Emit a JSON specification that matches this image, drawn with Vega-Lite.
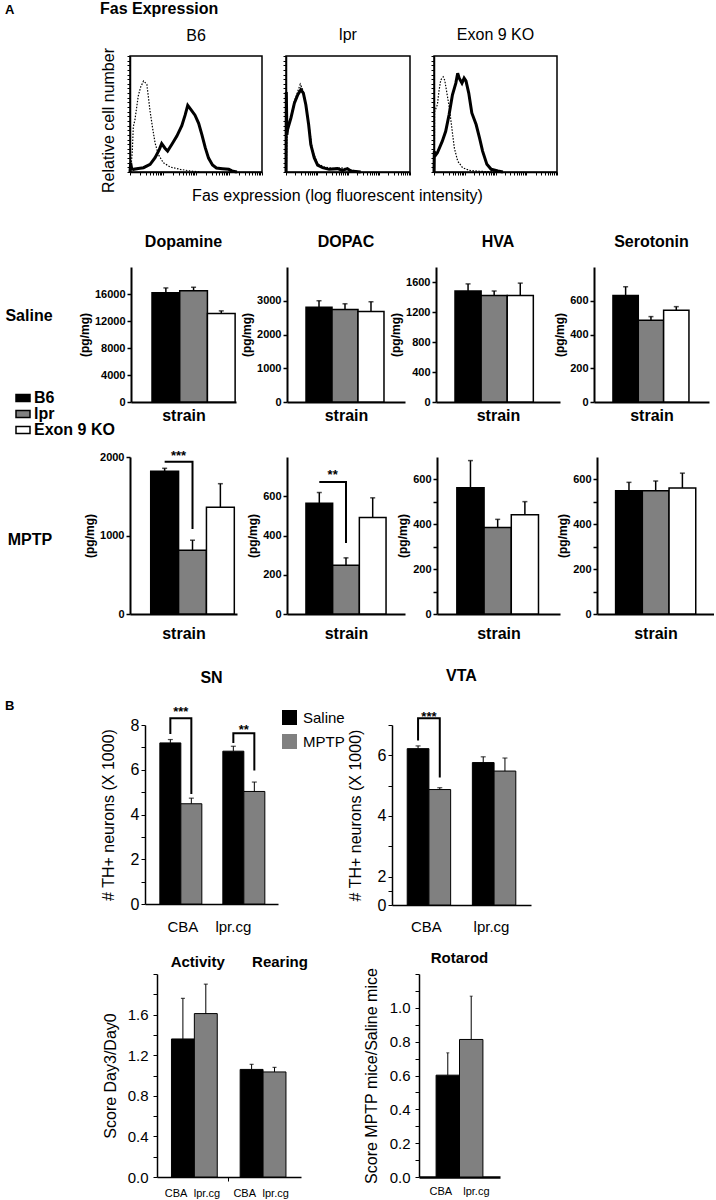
{
"$schema":"https://vega.github.io/schema/vega-lite/v6.json",
"background":"white",
"padding":{"left":5,"top":0,"right":0,"bottom":0},
"config":{"font":"Liberation Sans","view":{"stroke":null},"axis":{"grid":false,"domainColor":"black","tickColor":"black","labelColor":"black","titleColor":"black","labelOverlap":false,"labelFlush":false},"title":{"color":"black"},"legend":{"labelColor":"black"}},
"title":{"text":"A","anchor":"start","fontSize":13,"fontWeight":"bold","offset":-16},
"spacing":0,
"datasets":{
"b6_fas":[{"logI":0,"count":0},{"logI":0.02,"count":0.08},{"logI":0.05,"count":0.03},{"logI":0.1,"count":0.023},{"logI":0.25,"count":0.03},{"logI":0.41,"count":0.037},{"logI":0.61,"count":0.066},{"logI":0.76,"count":0.124},{"logI":0.89,"count":0.195},{"logI":0.96,"count":0.245},{"logI":1.06,"count":0.205},{"logI":1.14,"count":0.18},{"logI":1.27,"count":0.239},{"logI":1.42,"count":0.31},{"logI":1.57,"count":0.4},{"logI":1.67,"count":0.49},{"logI":1.75,"count":0.575},{"logI":1.83,"count":0.545},{"logI":1.97,"count":0.49},{"logI":2.08,"count":0.42},{"logI":2.18,"count":0.32},{"logI":2.28,"count":0.21},{"logI":2.38,"count":0.12},{"logI":2.5,"count":0.06},{"logI":2.62,"count":0.035},{"logI":2.8,"count":0.029},{"logI":2.99,"count":0.023},{"logI":3.09,"count":0.009},{"logI":3.24,"count":0}],
"b6_ctrl":[{"logI":0.02,"count":0.01},{"logI":0.07,"count":0.18},{"logI":0.1,"count":0.39},{"logI":0.15,"count":0.45},{"logI":0.25,"count":0.655},{"logI":0.32,"count":0.73},{"logI":0.41,"count":0.785},{"logI":0.51,"count":0.756},{"logI":0.56,"count":0.64},{"logI":0.61,"count":0.52},{"logI":0.69,"count":0.37},{"logI":0.76,"count":0.25},{"logI":0.86,"count":0.15},{"logI":1.01,"count":0.08},{"logI":1.22,"count":0.043},{"logI":1.52,"count":0.023},{"logI":1.82,"count":0.009},{"logI":2.13,"count":0}],
"lpr_fas":[{"logI":0,"count":0},{"logI":0.01,"count":0.69},{"logI":0.03,"count":0.32},{"logI":0.05,"count":0.366},{"logI":0.16,"count":0.466},{"logI":0.27,"count":0.594},{"logI":0.38,"count":0.666},{"logI":0.48,"count":0.709},{"logI":0.56,"count":0.68},{"logI":0.64,"count":0.58},{"logI":0.73,"count":0.409},{"logI":0.8,"count":0.237},{"logI":0.91,"count":0.123},{"logI":1.02,"count":0.06},{"logI":1.18,"count":0.037},{"logI":1.39,"count":0.023},{"logI":1.66,"count":0.029},{"logI":1.82,"count":0.014},{"logI":1.98,"count":0.029},{"logI":2.09,"count":0.009},{"logI":2.41,"count":0}],
"lpr_ctrl":[{"logI":0.01,"count":0.01},{"logI":0.03,"count":0.29},{"logI":0.05,"count":0.35},{"logI":0.16,"count":0.48},{"logI":0.27,"count":0.61},{"logI":0.38,"count":0.694},{"logI":0.46,"count":0.757},{"logI":0.54,"count":0.709},{"logI":0.64,"count":0.594},{"logI":0.75,"count":0.38},{"logI":0.86,"count":0.18},{"logI":1.02,"count":0.071},{"logI":1.23,"count":0.043},{"logI":1.55,"count":0.029},{"logI":1.77,"count":0.037},{"logI":2.04,"count":0.023},{"logI":2.31,"count":0.003}],
"exon_fas":[{"logI":0,"count":0},{"logI":0.01,"count":0.18},{"logI":0.03,"count":0.137},{"logI":0.11,"count":0.166},{"logI":0.27,"count":0.266},{"logI":0.38,"count":0.351},{"logI":0.49,"count":0.494},{"logI":0.6,"count":0.666},{"logI":0.71,"count":0.766},{"logI":0.77,"count":0.851},{"logI":0.82,"count":0.809},{"logI":0.91,"count":0.766},{"logI":0.98,"count":0.809},{"logI":1.04,"count":0.786},{"logI":1.13,"count":0.68},{"logI":1.23,"count":0.509},{"logI":1.37,"count":0.409},{"logI":1.48,"count":0.294},{"logI":1.58,"count":0.18},{"logI":1.72,"count":0.066},{"logI":1.86,"count":0.023},{"logI":2.08,"count":0.009},{"logI":2.24,"count":0}],
"exon_ctrl":[{"logI":0.01,"count":0},{"logI":0.02,"count":0.52},{"logI":0.11,"count":0.58},{"logI":0.16,"count":0.694},{"logI":0.22,"count":0.794},{"logI":0.3,"count":0.82},{"logI":0.35,"count":0.79},{"logI":0.42,"count":0.68},{"logI":0.5,"count":0.551},{"logI":0.58,"count":0.38},{"logI":0.66,"count":0.209},{"logI":0.77,"count":0.094},{"logI":0.93,"count":0.037},{"logI":1.15,"count":0.014},{"logI":1.48,"count":0.006},{"logI":2.02,"count":0}]
},
"vconcat":[
{"hconcat":[
  {"width":101,"height":1,"data":{"values":[{"t":""}]},"mark":{"type":"text","fontSize":1},"encoding":{"text":{"field":"t","type":"nominal"}}},
  {"width":132,"height":116,"title":{"text":"B6","fontSize":16,"fontWeight":"normal","offset":4},"view":{"stroke":"black","strokeWidth":1.5},
   "layer":[
    {"data":{"name":"b6_fas"},"mark":{"type":"line","color":"black","strokeWidth":3},"encoding":{"x":{"field":"logI","type":"quantitative","scale":{"domain":[0,4]},"axis":{"title":null,"labels":false,"tickSize":3,"tickCount":100,"domainWidth":1.5,"values":[0,0.301,0.477,0.602,0.699,0.778,0.845,0.903,0.954,1,1.301,1.477,1.602,1.699,1.778,1.845,1.903,1.954,2,2.301,2.477,2.602,2.699,2.778,2.845,2.903,2.954,3,3.301,3.477,3.602,3.699,3.778,3.845,3.903,3.954,4]}},"y":{"field":"count","type":"quantitative","scale":{"domain":[0,1]},"axis":{"title":"Relative cell number","titleFontSize":16,"titleFontWeight":"normal","titlePadding":10,"titleY":64,"labels":false,"tickSize":3,"tickCount":100,"domainWidth":1.5,"values":[0,0.04,0.08,0.12,0.16,0.2,0.24,0.28,0.32,0.36,0.4,0.44,0.48,0.52,0.56,0.6,0.64,0.68,0.72,0.76,0.8,0.84,0.88,0.92,0.96,1]}}}},
    {"data":{"name":"b6_ctrl"},"mark":{"type":"line","color":"black","strokeWidth":1.2,"strokeDash":[1.5,1.5]},"encoding":{"x":{"field":"logI","type":"quantitative"},"y":{"field":"count","type":"quantitative"}}}
   ]},
  {"width":124,"height":116,"title":{"text":"lpr","fontSize":16,"fontWeight":"normal","offset":13},"view":{"stroke":"black","strokeWidth":1.5},
   "layer":[
    {"data":{"name":"lpr_fas"},"mark":{"type":"line","color":"black","strokeWidth":3},"encoding":{"x":{"field":"logI","type":"quantitative","scale":{"domain":[0,4]},"axis":{"title":"Fas expression (log fluorescent intensity)","titleFontSize":16,"titleFontWeight":"normal","titlePadding":12,"titleX":51,"labels":false,"tickSize":3,"tickCount":100,"domainWidth":1.5,"values":[0,0.301,0.477,0.602,0.699,0.778,0.845,0.903,0.954,1,1.301,1.477,1.602,1.699,1.778,1.845,1.903,1.954,2,2.301,2.477,2.602,2.699,2.778,2.845,2.903,2.954,3,3.301,3.477,3.602,3.699,3.778,3.845,3.903,3.954,4]}},"y":{"field":"count","type":"quantitative","scale":{"domain":[0,1]},"axis":{"title":null,"labels":false,"tickSize":3,"tickCount":100,"domainWidth":1.5,"values":[0,0.04,0.08,0.12,0.16,0.2,0.24,0.28,0.32,0.36,0.4,0.44,0.48,0.52,0.56,0.6,0.64,0.68,0.72,0.76,0.8,0.84,0.88,0.92,0.96,1]}}}},
    {"data":{"name":"lpr_ctrl"},"mark":{"type":"line","color":"black","strokeWidth":1.2,"strokeDash":[1.5,1.5]},"encoding":{"x":{"field":"logI","type":"quantitative"},"y":{"field":"count","type":"quantitative"}}}
   ]},
  {"width":123,"height":116,"title":{"text":"Exon 9 KO","fontSize":16,"fontWeight":"normal","offset":13},"view":{"stroke":"black","strokeWidth":1.5},
   "layer":[
    {"data":{"name":"exon_fas"},"mark":{"type":"line","color":"black","strokeWidth":3},"encoding":{"x":{"field":"logI","type":"quantitative","scale":{"domain":[0,4]},"axis":{"title":null,"labels":false,"tickSize":3,"tickCount":100,"domainWidth":1.5,"values":[0,0.301,0.477,0.602,0.699,0.778,0.845,0.903,0.954,1,1.301,1.477,1.602,1.699,1.778,1.845,1.903,1.954,2,2.301,2.477,2.602,2.699,2.778,2.845,2.903,2.954,3,3.301,3.477,3.602,3.699,3.778,3.845,3.903,3.954,4]}},"y":{"field":"count","type":"quantitative","scale":{"domain":[0,1]},"axis":{"title":null,"labels":false,"tickSize":3,"tickCount":100,"domainWidth":1.5,"values":[0,0.04,0.08,0.12,0.16,0.2,0.24,0.28,0.32,0.36,0.4,0.44,0.48,0.52,0.56,0.6,0.64,0.68,0.72,0.76,0.8,0.84,0.88,0.92,0.96,1]}}}},
    {"data":{"name":"exon_ctrl"},"mark":{"type":"line","color":"black","strokeWidth":1.2,"strokeDash":[1.5,1.5]},"encoding":{"x":{"field":"logI","type":"quantitative"},"y":{"field":"count","type":"quantitative"}}}
   ]}
 ],"spacing":24,"bounds":"flush",
 "title":{"text":"Fas Expression","anchor":"start","dx":95,"fontSize":16,"fontWeight":"bold","offset":9}},
{"width":1,"height":29,"data":{"values":[{"t":""}]},"mark":{"type":"text","fontSize":1},"encoding":{"text":{"field":"t","type":"nominal"}}},
{"hconcat":[
  {"width":48,"height":98,"data":{"values":[{"label":"Saline"}]},"mark":{"type":"text","fontSize":16,"fontWeight":"bold","color":"black"},"encoding":{"text":{"field":"label","type":"nominal"}}},
  {"width":48,"height":1,"data":{"values":[{"t":""}]},"mark":{"type":"text","fontSize":1},"encoding":{"text":{"field":"t","type":"nominal"}}},
  {"width":105,"height":135,"title":{"text":"Dopamine","fontSize":16,"fontWeight":"bold","offset":17},
   "data":{"values":[{"strain":"B6","mean":16200,"upper":16900},{"strain":"lpr","mean":16500,"upper":17000},{"strain":"Exon 9 KO","mean":13100,"upper":13500}]},
   "encoding":{"x":{"field":"strain","type":"nominal","scale":{"domain":["B6","lpr","Exon 9 KO"],"paddingInner":0,"paddingOuter":0.395,"align":0.96},"axis":{"title":"strain","titleFontSize":16,"titleFontWeight":"bold","titlePadding":5,"labels":false,"ticks":false,"domainWidth":2}}},
   "layer":[
    {"mark":{"type":"bar","stroke":"black","strokeWidth":1.5},"encoding":{"y":{"field":"mean","type":"quantitative","scale":{"domain":[0,18300]},"axis":{"title":"(pg/mg)","titleFontSize":12,"titleFontWeight":"bold","titlePadding":3,"labelFontSize":11,"labelFontWeight":"bold","labelPadding":2,"labelOverlap":false,"tickSize":4,"tickWidth":1.5,"tickCount":100,"domainWidth":2,"format":"d","values":[0,4000,8000,12000,16000]}},
      "fill":{"field":"strain","type":"nominal","scale":{"domain":["B6","lpr","Exon 9 KO","CBA","lpr.cg"],"range":["black","#808080","white","black","#808080"]},
        "legend":{"orient":"none","legendX":10,"legendY":334,"title":null,"values":["B6","lpr","Exon 9 KO"],"symbolType":"M-1,-0.5H1V0.5H-1Z","symbolSize":196,"symbolStrokeColor":"black","symbolStrokeWidth":1.5,"labelFontSize":16,"labelFontWeight":"bold","rowPadding":0,"labelOffset":3,"padding":0,"encode":{"symbols":{"update":{"stroke":{"value":"black"},"strokeWidth":{"value":1.5}}}}}}}},
    {"mark":{"type":"rule","color":"black","strokeWidth":1.5},"encoding":{"y":{"field":"mean","type":"quantitative"},"y2":{"field":"upper"}}},
    {"mark":{"type":"tick","color":"black","size":5,"thickness":1.5},"encoding":{"y":{"field":"upper","type":"quantitative"}}}
   ]},
  {"width":21,"height":1,"data":{"values":[{"t":""}]},"mark":{"type":"text","fontSize":1},"encoding":{"text":{"field":"t","type":"nominal"}}},
  {"width":118,"height":135,"title":{"text":"DOPAC","fontSize":16,"fontWeight":"bold","offset":17},
   "data":{"values":[{"strain":"B6","mean":2810,"upper":3000},{"strain":"lpr","mean":2740,"upper":2910},{"strain":"Exon 9 KO","mean":2680,"upper":2970}]},
   "encoding":{"x":{"field":"strain","type":"nominal","scale":{"domain":["B6","lpr","Exon 9 KO"],"paddingInner":0,"paddingOuter":0.77,"align":0.475},"axis":{"title":"strain","titleFontSize":16,"titleFontWeight":"bold","titlePadding":5,"labels":false,"ticks":false,"domainWidth":2}}},
   "layer":[
    {"mark":{"type":"bar","stroke":"black","strokeWidth":1.5},"encoding":{"y":{"field":"mean","type":"quantitative","scale":{"domain":[0,3550]},"axis":{"title":"(pg/mg)","titleFontSize":12,"titleFontWeight":"bold","titlePadding":3,"labelFontSize":11,"labelFontWeight":"bold","labelPadding":2,"labelOverlap":false,"tickSize":4,"tickWidth":1.5,"tickCount":100,"domainWidth":2,"format":"d","values":[0,1000,2000,3000]}},
      "fill":{"field":"strain","type":"nominal","scale":{"domain":["B6","lpr","Exon 9 KO","CBA","lpr.cg"],"range":["black","#808080","white","black","#808080"]},"legend":null}}},
    {"mark":{"type":"rule","color":"black","strokeWidth":1.5},"encoding":{"y":{"field":"mean","type":"quantitative"},"y2":{"field":"upper"}}},
    {"mark":{"type":"tick","color":"black","size":5,"thickness":1.5},"encoding":{"y":{"field":"upper","type":"quantitative"}}}
   ]},
  {"width":1,"height":1,"data":{"values":[{"t":""}]},"mark":{"type":"text","fontSize":1},"encoding":{"text":{"field":"t","type":"nominal"}}},
  {"width":124,"height":135,"title":{"text":"HVA","fontSize":16,"fontWeight":"bold","offset":17},
   "data":{"values":[{"strain":"B6","mean":1480,"upper":1575},{"strain":"lpr","mean":1420,"upper":1480},{"strain":"Exon 9 KO","mean":1420,"upper":1585}]},
   "encoding":{"x":{"field":"strain","type":"nominal","scale":{"domain":["B6","lpr","Exon 9 KO"],"paddingInner":0,"paddingOuter":0.875,"align":0.416},"axis":{"title":"strain","titleFontSize":16,"titleFontWeight":"bold","titlePadding":5,"labels":false,"ticks":false,"domainWidth":2}}},
   "layer":[
    {"mark":{"type":"bar","stroke":"black","strokeWidth":1.5},"encoding":{"y":{"field":"mean","type":"quantitative","scale":{"domain":[0,1715]},"axis":{"title":"(pg/mg)","titleFontSize":12,"titleFontWeight":"bold","titlePadding":3,"labelFontSize":11,"labelFontWeight":"bold","labelPadding":2,"labelOverlap":false,"tickSize":4,"tickWidth":1.5,"tickCount":100,"domainWidth":2,"format":"d","values":[0,400,800,1200,1600]}},
      "fill":{"field":"strain","type":"nominal","scale":{"domain":["B6","lpr","Exon 9 KO","CBA","lpr.cg"],"range":["black","#808080","white","black","#808080"]},"legend":null}}},
    {"mark":{"type":"rule","color":"black","strokeWidth":1.5},"encoding":{"y":{"field":"mean","type":"quantitative"},"y2":{"field":"upper"}}},
    {"mark":{"type":"tick","color":"black","size":5,"thickness":1.5},"encoding":{"y":{"field":"upper","type":"quantitative"}}}
   ]},
  {"width":4,"height":1,"data":{"values":[{"t":""}]},"mark":{"type":"text","fontSize":1},"encoding":{"text":{"field":"t","type":"nominal"}}},
  {"width":115,"height":135,"title":{"text":"Serotonin","fontSize":16,"fontWeight":"bold","offset":17},
   "data":{"values":[{"strain":"B6","mean":631,"upper":683},{"strain":"lpr","mean":485,"upper":506},{"strain":"Exon 9 KO","mean":544,"upper":565}]},
   "encoding":{"x":{"field":"strain","type":"nominal","scale":{"domain":["B6","lpr","Exon 9 KO"],"paddingInner":0,"paddingOuter":0.77,"align":0.486},"axis":{"title":"strain","titleFontSize":16,"titleFontWeight":"bold","titlePadding":5,"labels":false,"ticks":false,"domainWidth":2}}},
   "layer":[
    {"mark":{"type":"bar","stroke":"black","strokeWidth":1.5},"encoding":{"y":{"field":"mean","type":"quantitative","scale":{"domain":[0,780]},"axis":{"title":"(pg/mg)","titleFontSize":12,"titleFontWeight":"bold","titlePadding":3,"labelFontSize":11,"labelFontWeight":"bold","labelPadding":2,"labelOverlap":false,"tickSize":4,"tickWidth":1.5,"tickCount":100,"domainWidth":2,"format":"d","values":[0,200,400,600]}},
      "fill":{"field":"strain","type":"nominal","scale":{"domain":["B6","lpr","Exon 9 KO","CBA","lpr.cg"],"range":["black","#808080","white","black","#808080"]},"legend":null}}},
    {"mark":{"type":"rule","color":"black","strokeWidth":1.5},"encoding":{"y":{"field":"mean","type":"quantitative"},"y2":{"field":"upper"}}},
    {"mark":{"type":"tick","color":"black","size":5,"thickness":1.5},"encoding":{"y":{"field":"upper","type":"quantitative"}}}
   ]}
 ],"spacing":15,"bounds":"flush"},
{"width":1,"height":27,"data":{"values":[{"t":""}]},"mark":{"type":"text","fontSize":1},"encoding":{"text":{"field":"t","type":"nominal"}}},
{"hconcat":[
  {"width":50,"height":166,"data":{"values":[{"label":"MPTP"}]},"mark":{"type":"text","fontSize":16,"fontWeight":"bold","color":"black"},"encoding":{"text":{"field":"label","type":"nominal"}}},
  {"width":45,"height":1,"data":{"values":[{"t":""}]},"mark":{"type":"text","fontSize":1},"encoding":{"text":{"field":"t","type":"nominal"}}},
  {"width":107,"height":157,
   "data":{"values":[{"strain":"B6","mean":1820,"upper":1856},{"strain":"lpr","mean":812,"upper":940},{"strain":"Exon 9 KO","mean":1361,"upper":1660}]},
   "encoding":{"x":{"field":"strain","type":"nominal","scale":{"domain":["B6","lpr","Exon 9 KO"],"paddingInner":0,"paddingOuter":0.42,"align":0.885},"axis":{"title":"strain","titleFontSize":16,"titleFontWeight":"bold","titlePadding":11,"labels":false,"ticks":false,"domainWidth":2}}},
   "layer":[
    {"mark":{"type":"bar","stroke":"black","strokeWidth":1.5},"encoding":{"y":{"field":"mean","type":"quantitative","scale":{"domain":[0,2000]},"axis":{"title":"(pg/mg)","titleFontSize":12,"titleFontWeight":"bold","titlePadding":3,"labelFontSize":11,"labelFontWeight":"bold","labelPadding":2,"labelOverlap":false,"tickSize":4,"tickWidth":1.5,"tickCount":100,"domainWidth":2,"format":"d","values":[0,1000,2000]}},
      "fill":{"field":"strain","type":"nominal","scale":{"domain":["B6","lpr","Exon 9 KO","CBA","lpr.cg"],"range":["black","#808080","white","black","#808080"]},"legend":null}}},
    {"mark":{"type":"rule","color":"black","strokeWidth":1.5},"encoding":{"y":{"field":"mean","type":"quantitative"},"y2":{"field":"upper"}}},
    {"mark":{"type":"tick","color":"black","size":5,"thickness":1.5},"encoding":{"y":{"field":"upper","type":"quantitative"}}},
    {"data":{"values":[{"strain":"B6","y":1940,"seq":1},{"strain":"lpr","y":1940,"seq":2},{"strain":"lpr","y":1083,"seq":3}]},"mark":{"type":"line","color":"black","strokeWidth":2},"encoding":{"y":{"field":"y","type":"quantitative"},"order":{"field":"seq","type":"quantitative"}}},
    {"data":{"values":[{"strain":"lpr","y":1959,"label":"***"}]},"mark":{"type":"text","fontSize":13,"fontWeight":"bold","color":"black","baseline":"alphabetic"},"encoding":{"x":{"field":"strain","type":"nominal","bandPosition":0},"y":{"field":"y","type":"quantitative"},"text":{"field":"label","type":"nominal"}}}
   ]},
  {"width":20,"height":1,"data":{"values":[{"t":""}]},"mark":{"type":"text","fontSize":1},"encoding":{"text":{"field":"t","type":"nominal"}}},
  {"width":118,"height":157,
   "data":{"values":[{"strain":"B6","mean":564,"upper":619},{"strain":"lpr","mean":248,"upper":286},{"strain":"Exon 9 KO","mean":492,"upper":592}]},
   "encoding":{"x":{"field":"strain","type":"nominal","scale":{"domain":["B6","lpr","Exon 9 KO"],"paddingInner":0,"paddingOuter":0.71,"align":0.5},"axis":{"title":"strain","titleFontSize":16,"titleFontWeight":"bold","titlePadding":11,"labels":false,"ticks":false,"domainWidth":2}}},
   "layer":[
    {"mark":{"type":"bar","stroke":"black","strokeWidth":1.5},"encoding":{"y":{"field":"mean","type":"quantitative","scale":{"domain":[0,720]},"axis":{"title":"(pg/mg)","titleFontSize":12,"titleFontWeight":"bold","titlePadding":3,"labelFontSize":11,"labelFontWeight":"bold","labelPadding":2,"labelOverlap":false,"tickSize":4,"tickWidth":1.5,"tickCount":100,"domainWidth":2,"format":"d","values":[0,200,400,600]}},
      "fill":{"field":"strain","type":"nominal","scale":{"domain":["B6","lpr","Exon 9 KO","CBA","lpr.cg"],"range":["black","#808080","white","black","#808080"]},"legend":null}}},
    {"mark":{"type":"rule","color":"black","strokeWidth":1.5},"encoding":{"y":{"field":"mean","type":"quantitative"},"y2":{"field":"upper"}}},
    {"mark":{"type":"tick","color":"black","size":5,"thickness":1.5},"encoding":{"y":{"field":"upper","type":"quantitative"}}},
    {"data":{"values":[{"strain":"B6","y":673,"seq":1},{"strain":"lpr","y":673,"seq":2},{"strain":"lpr","y":362,"seq":3}]},"mark":{"type":"line","color":"black","strokeWidth":2},"encoding":{"y":{"field":"y","type":"quantitative"},"order":{"field":"seq","type":"quantitative"}}},
    {"data":{"values":[{"strain":"lpr","y":687,"label":"**"}]},"mark":{"type":"text","fontSize":13,"fontWeight":"bold","color":"black","baseline":"alphabetic"},"encoding":{"x":{"field":"strain","type":"nominal","bandPosition":0},"y":{"field":"y","type":"quantitative"},"text":{"field":"label","type":"nominal"}}}
   ]},
  {"width":2,"height":1,"data":{"values":[{"t":""}]},"mark":{"type":"text","fontSize":1},"encoding":{"text":{"field":"t","type":"nominal"}}},
  {"width":123,"height":157,
   "data":{"values":[{"strain":"B6","mean":563,"upper":684},{"strain":"lpr","mean":386,"upper":422},{"strain":"Exon 9 KO","mean":443,"upper":501}]},
   "encoding":{"x":{"field":"strain","type":"nominal","scale":{"domain":["B6","lpr","Exon 9 KO"],"paddingInner":0,"paddingOuter":0.76,"align":0.48},"axis":{"title":"strain","titleFontSize":16,"titleFontWeight":"bold","titlePadding":11,"labels":false,"ticks":false,"domainWidth":2}}},
   "layer":[
    {"mark":{"type":"bar","stroke":"black","strokeWidth":1.5},"encoding":{"y":{"field":"mean","type":"quantitative","scale":{"domain":[0,685]},"axis":{"title":"(pg/mg)","titleFontSize":12,"titleFontWeight":"bold","titlePadding":3,"labelFontSize":11,"labelFontWeight":"bold","labelPadding":2,"labelOverlap":false,"tickSize":4,"tickWidth":1.5,"tickCount":100,"domainWidth":2,"format":"d","values":[0,100,200,300,400,500,600],"labelExpr":"datum.value % 200 === 0 ? datum.label : ''"}},
      "fill":{"field":"strain","type":"nominal","scale":{"domain":["B6","lpr","Exon 9 KO","CBA","lpr.cg"],"range":["black","#808080","white","black","#808080"]},"legend":null}}},
    {"mark":{"type":"rule","color":"black","strokeWidth":1.5},"encoding":{"y":{"field":"mean","type":"quantitative"},"y2":{"field":"upper"}}},
    {"mark":{"type":"tick","color":"black","size":5,"thickness":1.5},"encoding":{"y":{"field":"upper","type":"quantitative"}}}
   ]},
  {"width":7,"height":1,"data":{"values":[{"t":""}]},"mark":{"type":"text","fontSize":1},"encoding":{"text":{"field":"t","type":"nominal"}}},
  {"width":117,"height":157,
   "data":{"values":[{"strain":"B6","mean":550,"upper":587},{"strain":"lpr","mean":550,"upper":593},{"strain":"Exon 9 KO","mean":562,"upper":628}]},
   "encoding":{"x":{"field":"strain","type":"nominal","scale":{"domain":["B6","lpr","Exon 9 KO"],"paddingInner":0,"paddingOuter":0.69,"align":0.505},"axis":{"title":"strain","titleFontSize":16,"titleFontWeight":"bold","titlePadding":11,"labels":false,"ticks":false,"domainWidth":2}}},
   "layer":[
    {"mark":{"type":"bar","stroke":"black","strokeWidth":1.5},"encoding":{"y":{"field":"mean","type":"quantitative","scale":{"domain":[0,695]},"axis":{"title":"(pg/mg)","titleFontSize":12,"titleFontWeight":"bold","titlePadding":3,"labelFontSize":11,"labelFontWeight":"bold","labelPadding":2,"labelOverlap":false,"tickSize":4,"tickWidth":1.5,"tickCount":100,"domainWidth":2,"format":"d","values":[0,100,200,300,400,500,600],"labelExpr":"datum.value % 200 === 0 ? datum.label : ''"}},
      "fill":{"field":"strain","type":"nominal","scale":{"domain":["B6","lpr","Exon 9 KO","CBA","lpr.cg"],"range":["black","#808080","white","black","#808080"]},"legend":null}}},
    {"mark":{"type":"rule","color":"black","strokeWidth":1.5},"encoding":{"y":{"field":"mean","type":"quantitative"},"y2":{"field":"upper"}}},
    {"mark":{"type":"tick","color":"black","size":5,"thickness":1.5},"encoding":{"y":{"field":"upper","type":"quantitative"}}}
   ]}
 ],"spacing":15,"bounds":"flush"},
{"width":1,"height":27,"data":{"values":[{"t":""}]},"mark":{"type":"text","fontSize":1},"encoding":{"text":{"field":"t","type":"nominal"}}},
{"hconcat":[
  {"width":125,"height":1,"title":{"text":"B","anchor":"start","fontSize":13,"fontWeight":"bold","offset":12},"data":{"values":[{"t":""}]},"mark":{"type":"text","fontSize":1},"encoding":{"text":{"field":"t","type":"nominal"}}},
  {"width":133,"height":179,"title":{"text":"SN","fontSize":16,"fontWeight":"bold","offset":20},
   "data":{"values":[{"bar":"CBA Saline","strain":"CBA","treatment":"Saline","mean":7.2,"upper":7.35},{"bar":"CBA MPTP","strain":"CBA","treatment":"MPTP","mean":4.48,"upper":4.73},{"bar":"lpr.cg Saline","strain":"lpr.cg","treatment":"Saline","mean":6.83,"upper":7.05},{"bar":"lpr.cg MPTP","strain":"lpr.cg","treatment":"MPTP","mean":5.03,"upper":5.45}]},
   "encoding":{"x":{"field":"bar","type":"nominal","scale":{"domain":["CBA Saline","CBA MPTP","gap","lpr.cg Saline","lpr.cg MPTP"],"paddingInner":0,"paddingOuter":0.667,"align":0.53},"axis":{"title":null,"labels":false,"ticks":false,"domainWidth":1.5}}},
   "layer":[
    {"mark":{"type":"bar","stroke":"black","strokeWidth":1},"encoding":{"y":{"field":"mean","type":"quantitative","scale":{"domain":[0,8]},"axis":{"title":"# TH+ neurons (X 1000)","titleFontSize":16,"titleFontWeight":"normal","titlePadding":14,"labelFontSize":16,"labelPadding":2,"labelOverlap":false,"tickSize":4,"tickCount":100,"format":"d","domainWidth":1.5,"values":[0,1,2,3,4,5,6,7,8],"labelExpr":"datum.value % 2 === 0 ? datum.label : ''"}},
      "color":{"field":"treatment","type":"nominal","scale":{"domain":["Saline","MPTP"],"range":["black","#808080"]},"legend":{"orient":"none","legendX":277,"legendY":654,"title":null,"symbolType":"square","symbolSize":225,"symbolStrokeWidth":0,"labelFontSize":15,"rowPadding":8,"labelOffset":6,"padding":0}}}},
    {"mark":{"type":"rule","color":"black","strokeWidth":1},"encoding":{"y":{"field":"mean","type":"quantitative"},"y2":{"field":"upper"}}},
    {"mark":{"type":"tick","color":"black","size":5,"thickness":1.2},"encoding":{"y":{"field":"upper","type":"quantitative"}}},
    {"data":{"values":[{"bar":"CBA Saline","grp":"a","y":7.6,"seq":1},{"bar":"CBA Saline","grp":"a","y":8.3,"seq":2},{"bar":"CBA MPTP","grp":"a","y":8.3,"seq":3},{"bar":"CBA MPTP","grp":"a","y":4.92,"seq":4},{"bar":"lpr.cg Saline","grp":"b","y":7.2,"seq":1},{"bar":"lpr.cg Saline","grp":"b","y":7.63,"seq":2},{"bar":"lpr.cg MPTP","grp":"b","y":7.63,"seq":3},{"bar":"lpr.cg MPTP","grp":"b","y":5.97,"seq":4}]},"mark":{"type":"line","color":"black","strokeWidth":2},"encoding":{"y":{"field":"y","type":"quantitative"},"detail":{"field":"grp","type":"nominal"},"order":{"field":"seq","type":"quantitative"}}},
    {"data":{"values":[{"bar":"CBA Saline","y":8.38,"label":"***"},{"bar":"lpr.cg Saline","y":7.61,"label":"**"}]},"mark":{"type":"text","fontSize":13,"fontWeight":"bold","color":"black","baseline":"alphabetic"},"encoding":{"x":{"field":"bar","type":"nominal","bandPosition":1},"y":{"field":"y","type":"quantitative"},"text":{"field":"label","type":"nominal"}}},
    {"data":{"values":[{"bar":"CBA Saline","label":"CBA"}]},"mark":{"type":"text","fontSize":15,"color":"black","baseline":"middle"},"encoding":{"x":{"field":"bar","type":"nominal","bandPosition":1.1},"y":{"datum":-1.03,"type":"quantitative"},"text":{"field":"label","type":"nominal"}}},
    {"data":{"values":[{"bar":"lpr.cg Saline","label":"lpr.cg"}]},"mark":{"type":"text","fontSize":15,"color":"black","baseline":"middle"},"encoding":{"x":{"field":"bar","type":"nominal","bandPosition":0.5},"y":{"datum":-1.03,"type":"quantitative"},"text":{"field":"label","type":"nominal"}}}
   ]},
  {"width":84,"height":1,"data":{"values":[{"t":""}]},"mark":{"type":"text","fontSize":1},"encoding":{"text":{"field":"t","type":"nominal"}}},
  {"width":139,"height":180,"title":{"text":"VTA","fontSize":16,"fontWeight":"bold","offset":27},
   "data":{"values":[{"bar":"CBA Saline","strain":"CBA","treatment":"Saline","mean":6.22,"upper":6.31},{"bar":"CBA MPTP","strain":"CBA","treatment":"MPTP","mean":4.87,"upper":4.93},{"bar":"lpr.cg Saline","strain":"lpr.cg","treatment":"Saline","mean":5.76,"upper":5.95},{"bar":"lpr.cg MPTP","strain":"lpr.cg","treatment":"MPTP","mean":5.48,"upper":5.91}]},
   "encoding":{"x":{"field":"bar","type":"nominal","scale":{"domain":["CBA Saline","CBA MPTP","gap","lpr.cg Saline","lpr.cg MPTP"],"paddingInner":0,"paddingOuter":0.7,"align":0.5},"axis":{"title":null,"labels":false,"ticks":false,"domainWidth":1.5}}},
   "layer":[
    {"mark":{"type":"bar","stroke":"black","strokeWidth":1},"encoding":{"y":{"field":"mean","type":"quantitative","scale":{"domain":[0,2,7],"range":[180,151.5,0]},"axis":{"title":"# TH+ neurons (X 1000)","titleFontSize":16,"titleFontWeight":"normal","titlePadding":14,"labelFontSize":16,"labelPadding":2,"labelOverlap":false,"tickSize":4,"tickCount":100,"format":"d","domainWidth":1.5,"values":[0,1,2,3,4,5,6,7],"labelExpr":"datum.value % 2 === 0 ? datum.label : ''"}},
      "color":{"field":"treatment","type":"nominal","scale":{"domain":["Saline","MPTP"],"range":["black","#808080"]},"legend":null}}},
    {"mark":{"type":"rule","color":"black","strokeWidth":1},"encoding":{"y":{"field":"mean","type":"quantitative"},"y2":{"field":"upper"}}},
    {"mark":{"type":"tick","color":"black","size":5,"thickness":1.2},"encoding":{"y":{"field":"upper","type":"quantitative"}}},
    {"data":{"values":[{"bar":"CBA Saline","y":6.49,"seq":1},{"bar":"CBA Saline","y":7.22,"seq":2},{"bar":"CBA MPTP","y":7.22,"seq":3},{"bar":"CBA MPTP","y":5.27,"seq":4}]},"mark":{"type":"line","color":"black","strokeWidth":2},"encoding":{"y":{"field":"y","type":"quantitative"},"order":{"field":"seq","type":"quantitative"}}},
    {"data":{"values":[{"bar":"CBA Saline","y":7.12,"label":"***"}]},"mark":{"type":"text","fontSize":13,"fontWeight":"bold","color":"black","baseline":"alphabetic"},"encoding":{"x":{"field":"bar","type":"nominal","bandPosition":1},"y":{"field":"y","type":"quantitative"},"text":{"field":"label","type":"nominal"}}},
    {"data":{"values":[{"bar":"CBA Saline","label":"CBA"},{"bar":"lpr.cg Saline","label":"lpr.cg"}]},"mark":{"type":"text","fontSize":15,"color":"black","baseline":"middle"},"encoding":{"x":{"field":"bar","type":"nominal","bandPosition":0.88},"y":{"datum":-1.54,"type":"quantitative"},"text":{"field":"label","type":"nominal"}}}
   ]}
 ],"spacing":15,"bounds":"flush"},
{"width":1,"height":15,"data":{"values":[{"t":""}]},"mark":{"type":"text","fontSize":1},"encoding":{"text":{"field":"t","type":"nominal"}}},
{"hconcat":[
  {"width":137,"height":1,"data":{"values":[{"t":""}]},"mark":{"type":"text","fontSize":1},"encoding":{"text":{"field":"t","type":"nominal"}}},
  {"width":144,"height":203,
   "data":{"values":[{"bar":"CBA Activity","test":"Activity","strain":"CBA","mean":1.36,"upper":1.76},{"bar":"lpr.cg Activity","test":"Activity","strain":"lpr.cg","mean":1.61,"upper":1.9},{"bar":"CBA Rearing","test":"Rearing","strain":"CBA","mean":1.06,"upper":1.11},{"bar":"lpr.cg Rearing","test":"Rearing","strain":"lpr.cg","mean":1.035,"upper":1.08}]},
   "encoding":{"x":{"field":"bar","type":"nominal","scale":{"domain":["CBA Activity","lpr.cg Activity","gap","CBA Rearing","lpr.cg Rearing"],"paddingInner":0,"paddingOuter":0.644,"align":0.49},"axis":{"title":null,"labels":false,"values":["gap"],"tickSize":4,"domainWidth":1.5}}},
   "layer":[
    {"mark":{"type":"bar","stroke":"black","strokeWidth":1},"encoding":{"y":{"field":"mean","type":"quantitative","scale":{"domain":[0,2]},"axis":{"title":"Score Day3/Day0","titleFontSize":16,"titleFontWeight":"normal","titlePadding":9,"labelFontSize":15,"labelPadding":5,"labelOverlap":false,"tickSize":4,"tickCount":100,"domainWidth":1.5,"values":[0,0.2,0.4,0.6,0.8,1,1.2,1.4,1.6,1.8,2],"labelExpr":"(round(datum.value*10) % 4 === 0 && datum.value < 1.9) ? format(datum.value, '.1f') : ''"}},
      "fill":{"field":"strain","type":"nominal","scale":{"domain":["B6","lpr","Exon 9 KO","CBA","lpr.cg"],"range":["black","#808080","white","black","#808080"]},"legend":null}}},
    {"mark":{"type":"rule","color":"black","strokeWidth":1},"encoding":{"y":{"field":"mean","type":"quantitative"},"y2":{"field":"upper"}}},
    {"mark":{"type":"tick","color":"black","size":4,"thickness":1.2},"encoding":{"y":{"field":"upper","type":"quantitative"}}},
    {"data":{"values":[{"bar":"CBA Activity","label":"CBA"},{"bar":"CBA Rearing","label":"CBA"}]},"mark":{"type":"text","fontSize":11,"color":"black","baseline":"middle"},"encoding":{"x":{"field":"bar","type":"nominal","bandPosition":0.2},"y":{"datum":-0.167,"type":"quantitative"},"text":{"field":"label","type":"nominal"}}},
    {"data":{"values":[{"bar":"lpr.cg Activity","label":"lpr.cg"},{"bar":"lpr.cg Rearing","label":"lpr.cg"}]},"mark":{"type":"text","fontSize":11,"color":"black","baseline":"middle"},"encoding":{"x":{"field":"bar","type":"nominal","bandPosition":0.55},"y":{"datum":-0.167,"type":"quantitative"},"text":{"field":"label","type":"nominal"}}},
    {"data":{"values":[{"bar":"lpr.cg Activity","label":"Activity"}]},"mark":{"type":"text","fontSize":15,"fontWeight":"bold","color":"black","baseline":"middle"},"encoding":{"x":{"field":"bar","type":"nominal","bandPosition":0.15},"y":{"datum":2.117,"type":"quantitative"},"text":{"field":"label","type":"nominal"}}},
    {"data":{"values":[{"bar":"lpr.cg Rearing","label":"Rearing"}]},"mark":{"type":"text","fontSize":15,"fontWeight":"bold","color":"black","baseline":"middle"},"encoding":{"x":{"field":"bar","type":"nominal","bandPosition":0.74},"y":{"datum":2.117,"type":"quantitative"},"text":{"field":"label","type":"nominal"}}}
   ]},
  {"width":88,"height":1,"data":{"values":[{"t":""}]},"mark":{"type":"text","fontSize":1},"encoding":{"text":{"field":"t","type":"nominal"}}},
  {"width":81,"height":203,"title":{"text":"Rotarod","fontSize":15,"fontWeight":"bold","offset":1},
   "data":{"values":[{"strain":"CBA","mean":0.602,"upper":0.734},{"strain":"lpr.cg","mean":0.813,"upper":1.069}]},
   "encoding":{"x":{"field":"strain","type":"nominal","scale":{"domain":["CBA","lpr.cg"],"paddingInner":0,"paddingOuter":0.73,"align":0.5},"axis":{"title":null,"labels":false,"ticks":false,"domainWidth":2.5}}},
   "layer":[
    {"mark":{"type":"bar","stroke":"black","strokeWidth":1},"encoding":{"y":{"field":"mean","type":"quantitative","scale":{"domain":[0,1.2]},"axis":{"title":"Score MPTP mice/Saline mice","titleFontSize":16,"titleFontWeight":"normal","titlePadding":10,"labelFontSize":15,"labelPadding":5,"labelOverlap":false,"tickSize":4,"tickCount":100,"domainWidth":1.5,"values":[0,0.1,0.2,0.3,0.4,0.5,0.6,0.7,0.8,0.9,1,1.1,1.2],"labelExpr":"(round(datum.value*10) % 2 === 0 && datum.value < 1.1) ? format(datum.value, '.1f') : ''"}},
      "fill":{"field":"strain","type":"nominal","scale":{"domain":["B6","lpr","Exon 9 KO","CBA","lpr.cg"],"range":["black","#808080","white","black","#808080"]},"legend":null}}},
    {"mark":{"type":"rule","color":"black","strokeWidth":1},"encoding":{"y":{"field":"mean","type":"quantitative"},"y2":{"field":"upper"}}},
    {"mark":{"type":"tick","color":"black","size":3,"thickness":1},"encoding":{"y":{"field":"upper","type":"quantitative"}}},
    {"data":{"values":[{"strain":"CBA","label":"CBA"}]},"mark":{"type":"text","fontSize":11,"color":"black","baseline":"middle"},"encoding":{"x":{"field":"strain","type":"nominal","bandPosition":0.2},"y":{"datum":-0.087,"type":"quantitative"},"text":{"field":"label","type":"nominal"}}},
    {"data":{"values":[{"strain":"lpr.cg","label":"lpr.cg"}]},"mark":{"type":"text","fontSize":11,"color":"black","baseline":"middle"},"encoding":{"x":{"field":"strain","type":"nominal","bandPosition":0.72},"y":{"datum":-0.087,"type":"quantitative"},"text":{"field":"label","type":"nominal"}}}
   ]}
 ],"spacing":15,"bounds":"flush"}
]
}
